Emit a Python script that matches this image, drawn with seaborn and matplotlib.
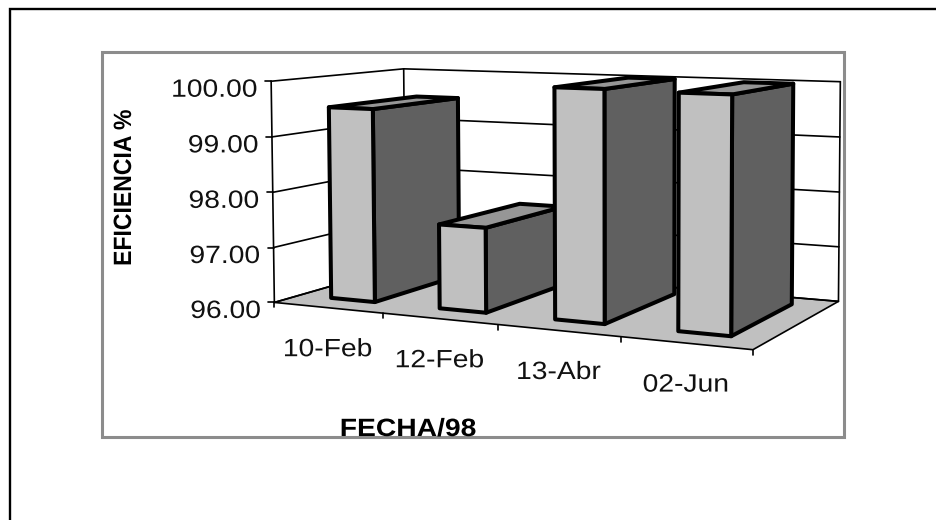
import numpy as np
import pandas as pd
import seaborn as sns
import matplotlib
matplotlib.use("Agg")
import matplotlib.pyplot as plt
import matplotlib.patheffects as pe
from matplotlib.transforms import Affine2D, Transform

# values
fechas = ["10-Feb", "12-Feb", "13-Abr", "02-Jun"]
eficiencia = [99.50, 97.50, 100.00, 99.98]
y_ticks = [96, 97, 98, 99, 100]
y_labels = ["96.00", "97.00", "98.00", "99.00", "100.00"]

Y_MIN, Y_MAX = 96, 100
BAR_W = 0.41
D0, D1 = 0.18, 0.86

# corners of the 3d box in image pixels: (category, value, depth) -> (px, py)
box_3d = np.array([[0, 0, 0], [0, 1, 0], [0, 0, 1], [0, 1, 1],
                   [1, 0, 0], [1, 0, 1], [1, 1, 1]], float)
box_px = np.array([[275.7, 303.3], [270.0, 80.7], [404.0, 264.0], [405.0, 69.3],
                   [752.7, 349.3], [839.0, 301.7], [840.0, 81.7]])

# fit the camera matrix from the corners
rows, rhs = [], []
for (a, b, c), (px, py) in zip(box_3d, box_px):
    rows.append([a, b, c, 1, 0, 0, 0, 0, -px * a, -px * b, -px * c])
    rows.append([0, 0, 0, 0, a, b, c, 1, -py * a, -py * b, -py * c])
    rhs += [px, py]
cam = np.append(np.linalg.lstsq(np.array(rows), np.array(rhs), rcond=None)[0], 1).reshape(3, 4)


def project(x, val, depth=0.0):
    # x in category units (-0.5 .. 3.5), val in axis units
    a = (x + 0.5) / len(fechas)
    b = (val - Y_MIN) / (Y_MAX - Y_MIN)
    h = cam @ np.array([a, b, depth, 1.0])
    return h[0] / h[2], h[1] / h[2]


class FrontPlane(Transform):
    # category/value plane at a fixed depth -> image pixels
    input_dims = 2
    output_dims = 2

    def __init__(self, plane_depth):
        super().__init__()
        self.plane_depth = plane_depth

    def transform_non_affine(self, values):
        return np.array([project(x, v, self.plane_depth) for x, v in values])


class Stretch(pe.AbstractPathEffect):
    # the original text is set wide (or narrow for the y title)
    def __init__(self, anchor="center", sx=1.13):
        super().__init__()
        self.anchor = anchor
        self.sx = sx

    def draw_path(self, renderer, gc, tpath, affine, rgbFace=None):
        ext = tpath.get_extents()
        x0 = ext.x1 if self.anchor == "right" else (ext.x0 + ext.x1) / 2
        t = Affine2D().translate(-x0, 0).scale(self.sx, 1).translate(x0, 0)
        renderer.draw_path(gc, tpath, t + affine, rgbFace)


sns.set_theme(style="white")
plt.rcParams["font.family"] = ["Liberation Sans", "DejaVu Sans"]

df = pd.DataFrame({"fecha": fechas, "eficiencia": eficiencia})

fig = plt.figure(figsize=(9.37, 5.20), dpi=100)
ax = fig.add_axes([0, 0, 1, 1])

# front faces come from the bar plot, the rest is built from them
sns.barplot(data=df, x="fecha", y="eficiencia", ax=ax, width=BAR_W, color="#c0c0c0",
            saturation=1, edgecolor="black", linewidth=2.9)
bars = list(ax.patches)

ax.set_xlim(0, 937)
ax.set_ylim(520, 0)
ax.axis("off")

# outer frames
ax.plot([10.5, 10.5, 937], [520, 9.3, 9.3], color="black", lw=1.7, zorder=1, solid_joinstyle="miter")
ax.add_patch(plt.Rectangle((102.5, 51.5), 742, 385.5, fill=False, ec="#8c8c8c", lw=2.2, zorder=1))

# floor
floor = [project(-0.5, Y_MIN, 0), project(3.5, Y_MIN, 0), project(3.5, Y_MIN, 1), project(-0.5, Y_MIN, 1)]
ax.fill(*zip(*floor), fc="#c0c0c0", ec="black", lw=1.2, zorder=2)

# walls and grid
for v in y_ticks:
    pts = [project(-0.5, v, 0), project(-0.5, v, 1), project(3.5, v, 1)]
    ax.plot(*zip(*pts), color="black", lw=1.2, zorder=2)
for x, d in [(-0.5, 0), (-0.5, 1), (3.5, 1)]:
    ax.plot(*zip(project(x, Y_MIN, d), project(x, Y_MAX, d)), color="black", lw=1.2, zorder=2)

# ticks and labels
for v, lab in zip(y_ticks, y_labels):
    px, py = project(-0.5, v, 0)
    ax.plot([px - 6, px], [py, py], color="black", lw=1.2, zorder=2)
    ax.text(px - 13.5, py + 6, lab, ha="right", va="center_baseline", fontsize=18, color="#111111",
            path_effects=[Stretch("right")])
for i in range(len(fechas) + 1):
    px, py = project(i - 0.5, Y_MIN, 0)
    ax.plot([px, px], [py, py + 5], color="black", lw=1.2, zorder=2)
for i, lab in enumerate(fechas):
    px, py = project(i, Y_MIN, 0)
    ax.text(px, py + 39, lab, ha="center", va="center_baseline", fontsize=18, color="#111111",
            path_effects=[Stretch()])

ax.text(124, 188, "EFICIENCIA %", rotation=90, ha="center", va="center", fontsize=18,
        fontweight="bold", color="black", path_effects=[Stretch(sx=0.92)])
ax.text(408, 429, "FECHA/98", ha="center", va="center", fontsize=18, fontweight="bold",
        color="black", path_effects=[Stretch(sx=1.13)], zorder=6)

# 3d bars, left to right so the nearer faces overlap properly
for i, (bar, val) in enumerate(zip(bars, eficiencia)):
    bar.set_y(Y_MIN)
    bar.set_height(val - Y_MIN)
    x0 = bar.get_x()
    x1 = x0 + bar.get_width()
    side = [project(x1, Y_MIN, D0), project(x1, Y_MIN, D1), project(x1, val, D1), project(x1, val, D0)]
    top = [project(x0, val, D0), project(x1, val, D0), project(x1, val, D1), project(x0, val, D1)]
    z = 3 + i * 0.1
    ax.fill(*zip(*side), fc="#606060", ec="black", lw=2.9, zorder=z, joinstyle="round")
    ax.fill(*zip(*top), fc="#969696", ec="black", lw=2.9, zorder=z + 0.01, joinstyle="round")
    bar.set_transform(FrontPlane(D0) + ax.transData)
    bar.set_clip_on(False)
    bar.set_joinstyle("round")
    bar.set_zorder(z + 0.02)

fig.savefig("out.png", dpi=100)
